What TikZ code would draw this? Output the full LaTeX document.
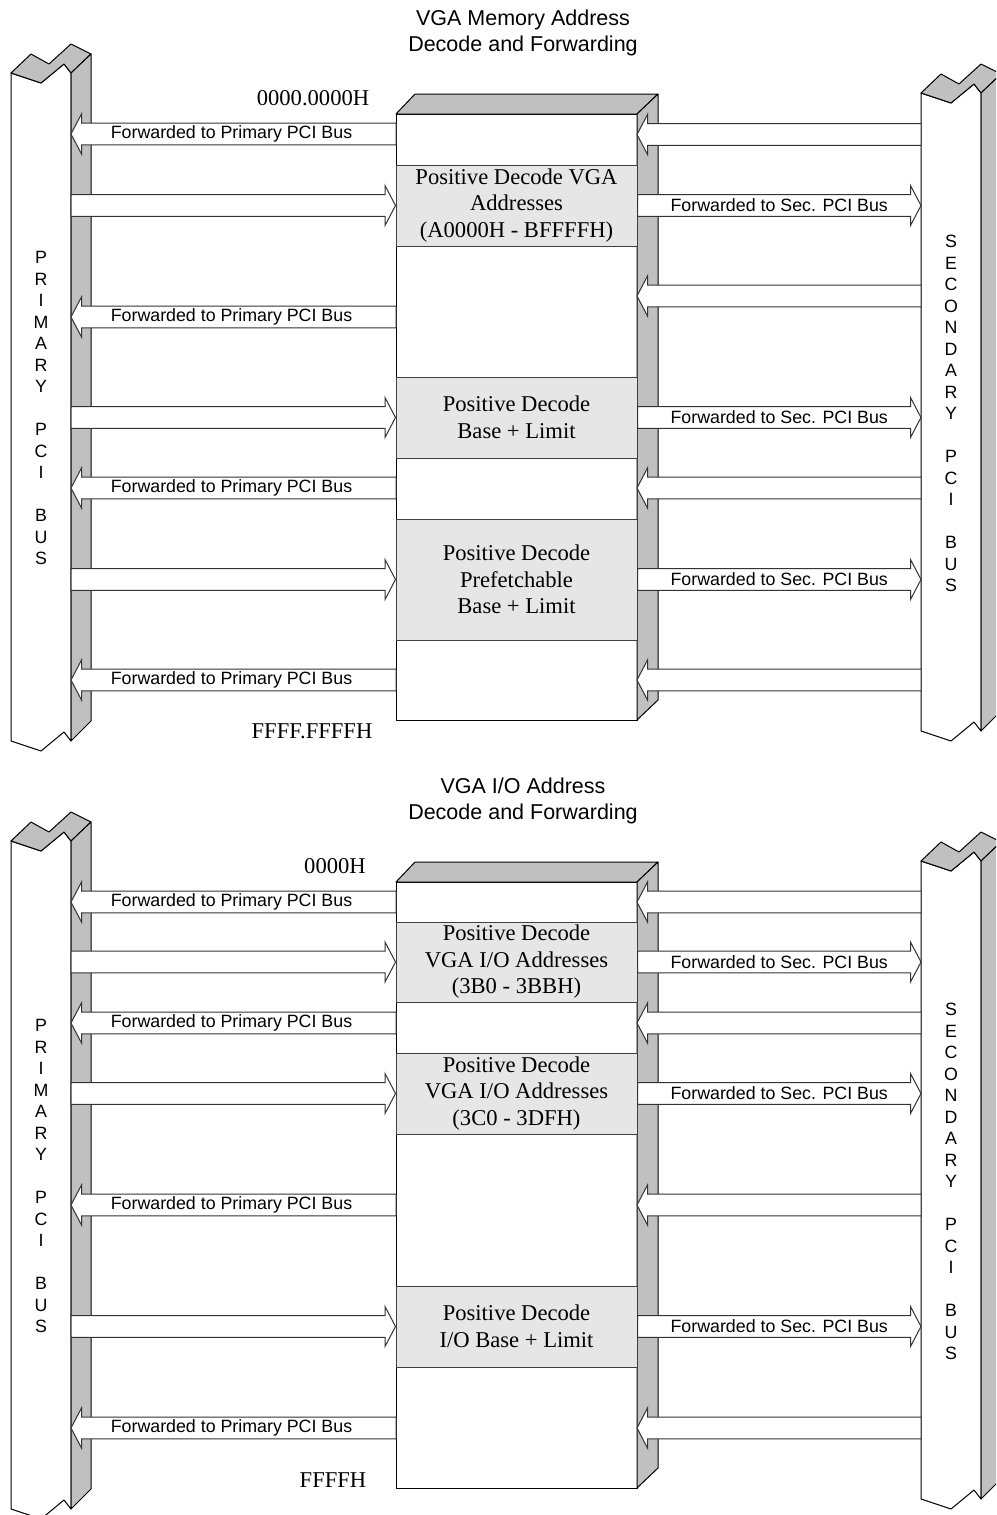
\documentclass[tikz,border=0pt]{standalone}
\usepackage{fontspec}
\setmainfont{Liberation Serif}
\setsansfont{Liberation Sans}
\usetikzlibrary{calc}
\definecolor{sidegray}{RGB}{192,192,192}
\definecolor{decgray}{RGB}{230,230,230}
% hollow block arrow, tail at #1, tip at #2 (same height)
\newcommand{\fwdarrow}[2]{%
  \draw[fwd] let \p1=(#1), \p2=(#2), \n1={sign(\x2-\x1)*5.25pt} in
    (\x1,{\y1+5.4pt}) -- ({\x2-\n1},{\y1+5.4pt}) -- ({\x2-\n1},{\y1+10pt})
    -- (\x2,\y1) -- ({\x2-\n1},{\y1-10pt}) -- ({\x2-\n1},{\y1-5.4pt})
    -- (\x1,{\y1-5.4pt}) -- cycle;}
\begin{document}
\begin{tikzpicture}[
  x=0.5pt,y=-0.5pt,
  busfront/.style={draw=black,fill=white,line width=0.5pt,line join=round},
  busface/.style={draw=black,fill=sidegray,line width=0.5pt,line join=round},
  decode/.style={draw=black!75,fill=decgray,line width=0.5pt,minimum width=120.5pt,inner sep=0pt,align=center,font=\fontsize{11.3}{13.25}\selectfont},
  fwd/.style={draw=black!80,fill=white,line width=0.5pt},
  lab/.style={font=\sffamily\fontsize{8.9}{10.7}\selectfont,inner sep=0pt},
  ttl/.style={font=\sffamily\fontsize{10.75}{13}\selectfont,align=center,inner sep=0pt},
  addr/.style={font=\fontsize{11.3}{13.25}\selectfont,inner sep=0pt},
  busname/.style={font=\sffamily\fontsize{8.9}{10.75}\selectfont,align=center,inner sep=0pt}
]

\useasboundingbox (0,0) rectangle (996,1515);
\clip (0,0) rectangle (996,1515);

\def\pbx{71}
\def\sbx{921}
\def\bl{396}
\def\br{637}
\def\bc{516.5}

\coordinate (pb) at (\pbx,0);
\coordinate (sb) at (\sbx,0);
\coordinate (bw) at (\bl,0);
\coordinate (be) at (\br,0);

% buses and address space boxes, both diagrams
\foreach \off in {0,768}{
  \begin{scope}[shift={(0,\off)}]
    \foreach \bx/\ty/\by in {0/73/741,910/93/731}{
      \draw[busfront] ({11+\bx},\ty) -- ({41+\bx},{\ty+10}) -- ({64+\bx},{\ty-9}) -- ({71+\bx},\ty)
        -- ({71+\bx},\by) -- ({64+\bx},{\by-9}) -- ({41+\bx},{\by+10}) -- ({11+\bx},\by) -- cycle;
      \draw[busface] ({11+\bx},\ty) -- ({31+\bx},{\ty-19}) -- ({49+\bx},{\ty-9}) -- ({71+\bx},{\ty-29})
        -- ({91+\bx},{\ty-19}) -- ({71+\bx},\ty) -- ({64+\bx},{\ty-9}) -- ({41+\bx},{\ty+10}) -- cycle;
      \draw[busface] ({71+\bx},\ty) -- ({91+\bx},{\ty-19}) -- ({91+\bx},{\by-20}) -- ({71+\bx},\by) -- cycle;
    }
    \draw[busfront] (\bl,114) rectangle (\br,720);
    \draw[busface] (\bl,114) -- (415,94) -- (658,94) -- (\br,114) -- cycle;
    \draw[busface] (\br,114) -- (658,94) -- (658,700) -- (\br,720) -- cycle;
  \end{scope}
}

% memory address diagram
\node[ttl] (mtitle) at (523,33) {VGA Memory Address\\Decode and Forwarding};
\node[addr] (mtop) at (313,98) {0000.0000H};
\node[addr] (mbot) at (312,731) {FFFF.FFFFH};
\node[busname] (mpbus) at (41,408) {P\\R\\I\\M\\A\\R\\Y\\ \\P\\C\\I\\ \\B\\U\\S};
\node[busname] (msbus) at (951,413.5) {S\\E\\C\\O\\N\\D\\A\\R\\Y\\ \\P\\C\\I\\ \\B\\U\\S};

\node[decode,minimum height=40.5pt] (mvga) at (\bc,205.5) {Positive Decode VGA\\Addresses\\(A0000H - BFFFFH)};
\node[decode,minimum height=40.5pt] (mbl) at (\bc,417.5) {Positive Decode\\Base + Limit};
\node[decode,minimum height=60.5pt] (mpf) at (\bc,579.5) {Positive Decode\\Prefetchable\\Base + Limit};

\foreach \i/\y in {1/134,2/317,3/488,4/680}{
  \coordinate (mp\i) at (\bl,\y);
  \fwdarrow{mp\i}{mp\i -| pb}
  \node[lab] (mlp\i) at (231.5,\y) {Forwarded to Primary PCI Bus};
}
\foreach \i/\y in {1/134.5,2/296,3/488,4/680}{
  \coordinate (ms\i) at (\sbx,\y);
  \fwdarrow{ms\i}{ms\i -| be}
}
\foreach \s in {mvga,mbl,mpf}{
  \fwdarrow{\s.west -| pb}{\s.west}
  \fwdarrow{\s.east}{\s.east -| sb}
  \node[lab] (\s-ls) at ($(\s.east)!0.5!(\s.east -| sb)$) {Forwarded to Sec. PCI Bus};
}

% I/O address diagram
\node[ttl] (ititle) at (523,801) {VGA I/O Address\\Decode and Forwarding};
\node[addr] (itop) at (335,866) {0000H};
\node[addr] (ibot) at (333,1480) {FFFFH};
\node[busname] (ipbus) at (41,1176) {P\\R\\I\\M\\A\\R\\Y\\ \\P\\C\\I\\ \\B\\U\\S};
\node[busname] (isbus) at (951,1181.5) {S\\E\\C\\O\\N\\D\\A\\R\\Y\\ \\P\\C\\I\\ \\B\\U\\S};

\node[decode,minimum height=40pt] (ivgaa) at (\bc,962) {Positive Decode\\VGA I/O Addresses\\(3B0 - 3BBH)};
\node[decode,minimum height=40.5pt] (ivgab) at (\bc,1093.5) {Positive Decode\\VGA I/O Addresses\\(3C0 - 3DFH)};
\node[decode,minimum height=40.5pt] (iobl) at (\bc,1326.5) {Positive Decode\\I/O Base + Limit};

\foreach \i/\y in {1/902,2/1023,3/1205,4/1428}{
  \coordinate (ip\i) at (\bl,\y);
  \fwdarrow{ip\i}{ip\i -| pb}
  \node[lab] (ilp\i) at (231.5,\y) {Forwarded to Primary PCI Bus};
  \coordinate (is\i) at (\sbx,\y);
  \fwdarrow{is\i}{is\i -| be}
}
\foreach \s in {ivgaa,ivgab,iobl}{
  \fwdarrow{\s.west -| pb}{\s.west}
  \fwdarrow{\s.east}{\s.east -| sb}
  \node[lab] (\s-ls) at ($(\s.east)!0.5!(\s.east -| sb)$) {Forwarded to Sec. PCI Bus};
}

\end{tikzpicture}
\end{document}
